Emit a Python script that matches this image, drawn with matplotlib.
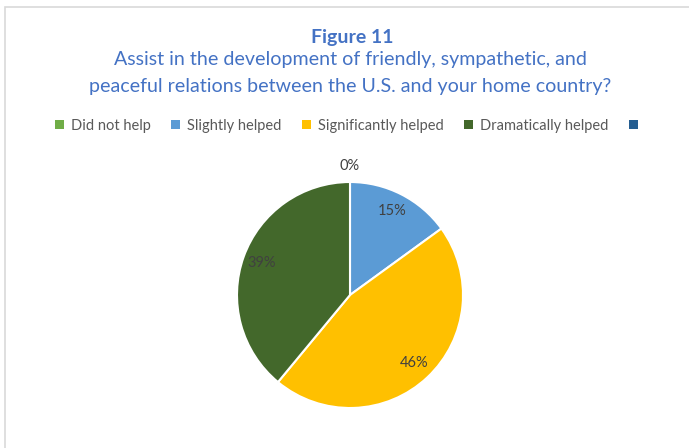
import numpy as np
import matplotlib.pyplot as plt
from matplotlib.patches import Rectangle, Patch

# survey answers, clockwise from 12 o'clock
labels = ["Did not help", "Slightly helped", "Significantly helped", "Dramatically helped", ""]
values = [0, 15, 46, 39]
colors = ["#70AD47", "#5B9BD5", "#FFC000", "#43682B", "#255E91"]

plt.rcParams['font.family'] = ['Lato', 'DejaVu Sans']

W, H = 689, 448
fig = plt.figure(figsize=(W / 100, H / 100), dpi=100)

# chart frame (cut off at right and bottom)
fig.patches.append(Rectangle((5 / W, -0.1), 1.2, 1 - 7 / H + 0.1, transform=fig.transFigure,
                             fill=False, edgecolor="#D9D9D9", linewidth=1.2))

fig.text(352 / W, 1 - 37 / H, "Figure 11", ha="center", va="center",
         fontsize=14, fontweight="bold", color="#4472C4")
fig.text(350 / W, 1 - 73 / H,
         "Assist in the development of friendly, sympathetic, and\n"
         "peaceful relations between the U.S. and your home country?",
         ha="center", va="center", fontsize=14.1, color="#4472C4", linespacing=1.65)

cx, cy, r = 350, 295, 113
ax = fig.add_axes([(cx - r) / W, (H - cy - r) / H, 2 * r / W, 2 * r / H])
wedges, texts = ax.pie(values, colors=colors[:4], startangle=90, counterclock=False,
                       radius=1, wedgeprops=dict(edgecolor="white", linewidth=1.5))
ax.set_xlim(-1, 1)
ax.set_ylim(-1, 1)
ax.set_aspect("equal")
ax.axis("off")

# percentage labels
total = sum(values)
start = 90.0
for v in values:
    mid = start - 360 * v / total / 2
    d = 1.14 if v == 0 else 0.83
    ax.text(d * np.cos(np.radians(mid)), d * np.sin(np.radians(mid)), f"{v}%",
            ha="center", va="center", fontsize=10.5, color="#404040")
    start -= 360 * v / total

handles = [Patch(facecolor=c, edgecolor="none") for c in colors]
fig.legend(handles, labels, loc="center", bbox_to_anchor=(350 / W, 1 - 126 / H), ncol=5,
           frameon=False, fontsize=10.5, labelcolor="#595959", handlelength=0.6,
           handleheight=0.6, handletextpad=0.5, columnspacing=1.4)

fig.savefig("out.png", dpi=100)
